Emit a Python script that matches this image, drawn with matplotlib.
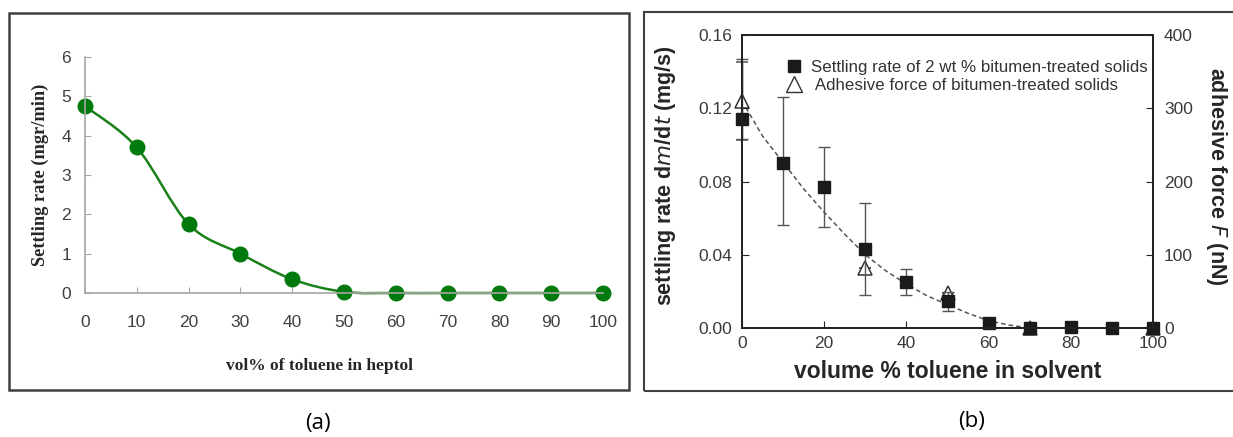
import numpy as np
import matplotlib
matplotlib.use("Agg")
import matplotlib.pyplot as plt
from matplotlib.path import Path
from matplotlib.patches import PathPatch, Rectangle
from matplotlib.lines import Line2D

# ----- panel (a) -----
vol_a = [0, 10, 20, 30, 40, 50, 60, 70, 80, 90, 100]
rate_a = [4.75, 3.7, 1.75, 1.0, 0.35, 0.03, 0.0, 0.0, 0.0, 0.0, 0.0]

# ----- panel (b) -----
vol_sq = [0, 10, 20, 30, 40, 50, 60, 70, 80, 90, 100]
rate_sq = [0.114, 0.090, 0.077, 0.043, 0.025, 0.0145, 0.003, 0.0, 0.0005, 0.0, 0.0]
err_lo = [0.011, 0.034, 0.022, 0.025, 0.007, 0.005, 0, 0, 0, 0, 0]
err_hi = [0.033, 0.036, 0.022, 0.025, 0.007, 0.005, 0, 0, 0, 0, 0]

vol_tri = [0, 30, 50, 70, 100]
force_tri = [310, 82, 48, 0, 0]
force_err = [53, 0, 0, 0, 0]

# dashed guide line (nN)
vol_fit = [0, 5, 10, 15, 20, 25, 30, 35, 40, 45, 50, 55, 60, 65, 70, 73]
force_fit = [310, 262, 226, 190, 158, 128, 100, 78, 60, 44, 32, 20, 10, 4, 0, 0]

fig = plt.figure(figsize=(12.33, 4.37), dpi=100)
W, H = 1233, 437


def fx(px):
    return px / W


def fy(py):
    return 1 - py / H


# panel frames
fig.patches.append(Rectangle((fx(9), fy(390)), fx(620), (390 - 13) / H,
                             transform=fig.transFigure, fill=False,
                             edgecolor="#404040", lw=1.8))
fig.patches.append(Rectangle((fx(644), fy(391)), fx(620), (391 - 12) / H,
                             transform=fig.transFigure, fill=False,
                             edgecolor="#404040", lw=1.5))

# ===== (a) =====
ax1 = fig.add_axes([fx(85), fy(293), (603 - 85) / W, (293 - 57) / H])
pts = np.column_stack([vol_a, rate_a]).astype(float)
ext = np.vstack([pts[0], pts, pts[-1]])
verts = [tuple(pts[0])]
codes = [Path.MOVETO]
for i in range(1, len(ext) - 2):
    p0, p1, p2, p3 = ext[i - 1], ext[i], ext[i + 1], ext[i + 2]
    c1 = p1 + (p2 - p0) / 6
    c2 = p2 - (p3 - p1) / 6
    verts += [tuple(c1), tuple(c2), tuple(p2)]
    codes += [Path.CURVE4] * 3
ax1.add_patch(PathPatch(Path(verts, codes), fill=False, edgecolor="#1a801a", lw=1.8))
ax1.plot(vol_a, rate_a, ls="none", marker="o", ms=10.5, color="#007a0c")
ax1.set_xlim(0, 100)
ax1.set_ylim(0, 6)
ax1.set_xticks(range(0, 101, 10))
ax1.set_yticks(range(0, 7))
for s in ["top", "right"]:
    ax1.spines[s].set_visible(False)
for s in ["left", "bottom"]:
    ax1.spines[s].set_color("#a6a6a6")
    ax1.spines[s].set_linewidth(1.2)
ax1.tick_params(direction="in", length=4, color="#a6a6a6", labelsize=12.5,
                labelcolor="#404040")
ax1.tick_params(axis="x", pad=16)
ax1.tick_params(axis="y", pad=10)
for t in ax1.get_xticklabels() + ax1.get_yticklabels():
    t.set_fontfamily("Liberation Sans")
for a in ax1.lines + ax1.patches:
    a.set_clip_on(False)
fig.text(fx(40), fy(175), "Settling rate (mgr/min)", rotation=90, ha="center",
         va="center", fontsize=13.2, fontweight="bold", family="Liberation Serif",
         color="#262626")
fig.text(fx(319), fy(366), "vol% of toluene in heptol", ha="center", va="center",
         fontsize=12.5, fontweight="bold", family="Liberation Serif", color="#262626")
fig.text(fx(318), fy(423), "(a)", ha="center", va="center", fontsize=16,
         family="Open Sans", color="black")

# ===== (b) =====
ax2 = fig.add_axes([fx(742), fy(328), (1153 - 742) / W, (328 - 35) / H])
ax3 = ax2.twinx()
ax2.set_zorder(ax3.get_zorder() + 1)
ax2.patch.set_visible(False)

ax3.plot(vol_fit, force_fit, ls=(0, (3, 2)), color="#555555", lw=1.1, clip_on=False)
ax3.errorbar(vol_tri, force_tri, yerr=force_err, fmt="^", ms=10.5, mfc="white",
             mec="#333333", mew=1.1, ecolor="#555555", elinewidth=1, capsize=4,
             clip_on=False)
ax2.errorbar(vol_sq, rate_sq, yerr=[err_lo, err_hi], fmt="s", ms=8.5,
             color="#1a1a1a", ecolor="#555555", elinewidth=1, capsize=4,
             clip_on=False)

ax2.set_xlim(0, 100)
ax2.set_ylim(0, 0.16)
ax3.set_ylim(0, 400)
ax2.set_xticks(range(0, 101, 20))
ax2.set_yticks(np.arange(0, 0.161, 0.04))
ax2.set_yticklabels([f"{v:.2f}" for v in np.arange(0, 0.161, 0.04)])
ax3.set_yticks(range(0, 401, 100))
for a in (ax2, ax3):
    for s in a.spines.values():
        s.set_color("#222222")
        s.set_linewidth(1.3)
ax2.tick_params(direction="in", length=5, color="#222222", labelsize=12.5,
                labelcolor="#3a3a3a", pad=7)
ax2.tick_params(axis="x", pad=6)
ax3.tick_params(direction="in", length=5, color="#222222", labelsize=12.5,
                labelcolor="#3a3a3a", pad=8)
for t in ax2.get_xticklabels() + ax2.get_yticklabels() + ax3.get_yticklabels():
    t.set_fontfamily("Liberation Sans")

ax2.set_xlabel("volume % toluene in solvent", fontsize=16.5, fontweight="bold",
               family="Liberation Sans", color="#262626", labelpad=6)
fig.text(fx(665), fy(176), r"settling rate d$\it{m}$/d$\it{t}$ (mg/s)", rotation=90,
         ha="center", va="center", fontsize=15.5, fontweight="bold",
         family="Liberation Sans", color="#262626")
fig.text(fx(1216), fy(176), r"adhesive force $\it{F}$ (nN)", rotation=-90,
         ha="center", va="center", fontsize=15.5, fontweight="bold",
         family="Liberation Sans", color="#262626")

handles = [Line2D([], [], ls="none", marker="s", ms=9, color="#1a1a1a"),
           Line2D([], [], ls="none", marker="^", ms=11, mfc="white", mec="#333333")]
labels = ["Settling rate of 2 wt % bitumen-treated solids",
          " Adhesive force of bitumen-treated solids"]
leg = ax2.legend(handles, labels, loc="upper left", bbox_to_anchor=(0.105, 0.915),
                 frameon=False, handlelength=1.0, handletextpad=0.5,
                 labelspacing=0.2, borderpad=0, borderaxespad=0,
                 prop={"family": "Liberation Sans", "size": 12.2})
for t in leg.get_texts():
    t.set_color("#333333")

fig.text(fx(972), fy(422), "(b)", ha="center", va="center", fontsize=16,
         family="Open Sans", color="black")

fig.savefig("out.png", dpi=100)
